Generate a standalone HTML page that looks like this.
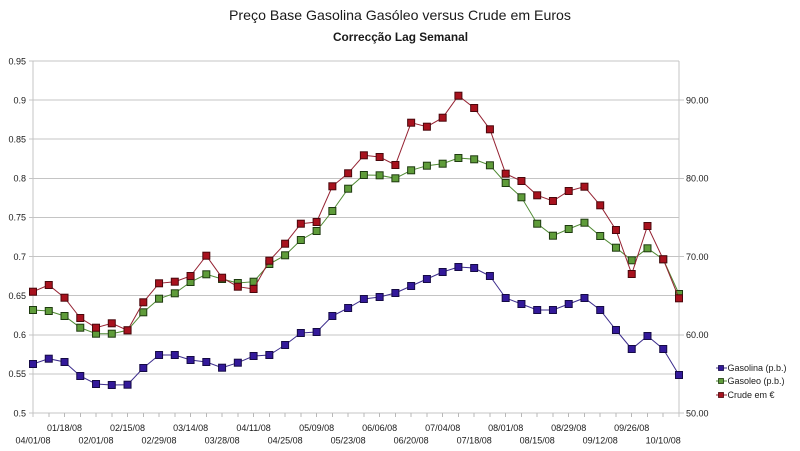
<!DOCTYPE html>
<html><head><meta charset="utf-8"><style>
html,body{margin:0;padding:0;background:#fff;width:800px;height:451px;overflow:hidden}
svg{display:block}
text{font-family:"Liberation Sans",Arial,sans-serif;fill:#1a1a1a}
</style></head><body>
<svg width="800" height="451" viewBox="0 0 800 451" xmlns="http://www.w3.org/2000/svg">
<defs>
<marker id="mb" markerUnits="userSpaceOnUse" markerWidth="9" markerHeight="9" refX="4.5" refY="4.5"><rect x="1" y="1" width="7" height="7" fill="#33199a" stroke="#150a45" stroke-width="1"/></marker>
<marker id="mg" markerUnits="userSpaceOnUse" markerWidth="9" markerHeight="9" refX="4.5" refY="4.5"><rect x="1" y="1" width="7" height="7" fill="#5f9c3a" stroke="#1e3a10" stroke-width="1"/></marker>
<marker id="mr" markerUnits="userSpaceOnUse" markerWidth="9" markerHeight="9" refX="4.5" refY="4.5"><rect x="1" y="1" width="7" height="7" fill="#a8121e" stroke="#4a070c" stroke-width="1"/></marker>
</defs>
<rect width="800" height="451" fill="#fff"/>
<text x="400" y="20" font-size="14" text-anchor="middle" textLength="342" lengthAdjust="spacingAndGlyphs">Preço Base Gasolina Gasóleo versus Crude em Euros</text>
<text x="400.5" y="41" font-size="11.5" font-weight="bold" text-anchor="middle" textLength="135" lengthAdjust="spacingAndGlyphs">Correcção Lag Semanal</text>
<g stroke="#c4c4c4" stroke-width="1" shape-rendering="crispEdges">
<line x1="29" y1="61" x2="679" y2="61"/>
<line x1="29" y1="100.1" x2="684" y2="100.1"/>
<line x1="29" y1="139.2" x2="679" y2="139.2"/>
<line x1="29" y1="178.3" x2="684" y2="178.3"/>
<line x1="29" y1="217.4" x2="679" y2="217.4"/>
<line x1="29" y1="256.5" x2="684" y2="256.5"/>
<line x1="29" y1="295.7" x2="679" y2="295.7"/>
<line x1="29" y1="334.8" x2="684" y2="334.8"/>
<line x1="29" y1="373.9" x2="679" y2="373.9"/>
<line x1="29" y1="413" x2="684" y2="413"/>
<line x1="33" y1="61" x2="33" y2="417"/>
<line x1="679" y1="61" x2="679" y2="417"/>
</g>
<g stroke="#b8b8b8" stroke-width="1" shape-rendering="crispEdges">
<path d="M48.76 413v4M64.51 413v4M80.27 413v4M96.02 413v4M111.78 413v4M127.54 413v4M143.29 413v4M159.05 413v4M174.8 413v4M190.56 413v4M206.32 413v4M222.07 413v4M237.83 413v4M253.58 413v4M269.34 413v4M285.1 413v4M300.85 413v4M316.61 413v4M332.36 413v4M348.12 413v4M363.88 413v4M379.63 413v4M395.39 413v4M411.14 413v4M426.9 413v4M442.66 413v4M458.41 413v4M474.17 413v4M489.92 413v4M505.68 413v4M521.44 413v4M537.19 413v4M552.95 413v4M568.7 413v4M584.46 413v4M600.22 413v4M615.97 413v4M631.73 413v4M647.48 413v4M663.24 413v4"/>
</g>
<g font-size="9" text-anchor="end">
<text x="26" y="64.3">0.95</text>
<text x="26" y="103.4">0.9</text>
<text x="26" y="142.5">0.85</text>
<text x="26" y="181.6">0.8</text>
<text x="26" y="220.7">0.75</text>
<text x="26" y="259.8">0.7</text>
<text x="26" y="299">0.65</text>
<text x="26" y="338.1">0.6</text>
<text x="26" y="377.2">0.55</text>
<text x="26" y="416.3">0.5</text>
</g>
<g font-size="9">
<text x="686" y="103.4">90.00</text>
<text x="686" y="181.6">80.00</text>
<text x="686" y="259.8">70.00</text>
<text x="686" y="338.1">60.00</text>
<text x="686" y="416.3">50.00</text>
</g>
<g font-size="9" text-anchor="middle">
<text x="64.5" y="431">01/18/08</text>
<text x="127.5" y="431">02/15/08</text>
<text x="190.6" y="431">03/14/08</text>
<text x="253.6" y="431">04/11/08</text>
<text x="316.6" y="431">05/09/08</text>
<text x="379.6" y="431">06/06/08</text>
<text x="442.7" y="431">07/04/08</text>
<text x="505.7" y="431">08/01/08</text>
<text x="568.7" y="431">08/29/08</text>
<text x="631.7" y="431">09/26/08</text>
<text x="33" y="443.5">04/01/08</text>
<text x="96" y="443.5">02/01/08</text>
<text x="159" y="443.5">02/29/08</text>
<text x="222.1" y="443.5">03/28/08</text>
<text x="285.1" y="443.5">04/25/08</text>
<text x="348.1" y="443.5">05/23/08</text>
<text x="411.1" y="443.5">06/20/08</text>
<text x="474.2" y="443.5">07/18/08</text>
<text x="537.2" y="443.5">08/15/08</text>
<text x="600.2" y="443.5">09/12/08</text>
<text x="663.2" y="443.5">10/10/08</text>
</g>
<polyline fill="none" stroke="#3c2c8c" stroke-width="1" marker-start="url(#mb)" marker-mid="url(#mb)" marker-end="url(#mb)" points="33,364 48.76,358.7 64.51,362 80.27,376 96.02,384 111.78,385 127.54,384.7 143.29,368 159.05,355 174.8,355 190.56,360 206.32,362 222.07,367.7 237.83,362.7 253.58,356 269.34,355 285.1,345 300.85,333 316.61,332 332.36,316 348.12,308 363.88,299 379.63,297 395.39,293 411.14,286 426.9,279 442.66,272 458.41,267 474.17,268 489.92,276 505.68,298 521.44,304 537.19,310 552.95,310 568.7,304 584.46,298 600.22,310 615.97,330 631.73,349 647.48,336 663.24,349 679,375"/>
<polyline fill="none" stroke="#4f8a33" stroke-width="1" marker-start="url(#mg)" marker-mid="url(#mg)" marker-end="url(#mg)" points="33,310 48.76,311 64.51,316 80.27,327.7 96.02,333.7 111.78,333.7 127.54,330.3 143.29,312.3 159.05,298.7 174.8,293.3 190.56,282 206.32,274.3 222.07,279 237.83,283 253.58,281.7 269.34,264 285.1,255.3 300.85,240 316.61,231 332.36,211 348.12,188.7 363.88,175 379.63,175.3 395.39,178.3 411.14,170.3 426.9,165.7 442.66,163.7 458.41,158 474.17,159.3 489.92,165.3 505.68,183 521.44,197.3 537.19,223.7 552.95,235.7 568.7,229 584.46,222.7 600.22,236 615.97,247.7 631.73,260.3 647.48,248.3 663.24,259.3 679,294"/>
<polyline fill="none" stroke="#952232" stroke-width="1" marker-start="url(#mr)" marker-mid="url(#mr)" marker-end="url(#mr)" points="33,291.7 48.76,285 64.51,297.7 80.27,318 96.02,327.7 111.78,323.3 127.54,330.3 143.29,302.3 159.05,283.3 174.8,281.7 190.56,276 206.32,255.7 222.07,277.7 237.83,286.7 253.58,289 269.34,260.7 285.1,243.7 300.85,223.7 316.61,222 332.36,186.3 348.12,173.3 363.88,155.3 379.63,157 395.39,165 411.14,122.7 426.9,126.7 442.66,117.7 458.41,95.7 474.17,108 489.92,129.3 505.68,173.7 521.44,181 537.19,195.3 552.95,201 568.7,191 584.46,186.7 600.22,205.3 615.97,230 631.73,274 647.48,226 663.24,259.3 679,298.3"/>
<g font-size="9">
<line x1="716" y1="368" x2="727" y2="368" stroke="#3c2c8c"/>
<rect x="718.5" y="365.5" width="5" height="5" fill="#33199a" stroke="#150a45" stroke-width="0.8"/>
<text x="727.5" y="371">Gasolina (p.b.)</text>
<line x1="716" y1="381" x2="727" y2="381" stroke="#4f8a33"/>
<rect x="718.5" y="378.5" width="5" height="5" fill="#5f9c3a" stroke="#1e3a10" stroke-width="0.8"/>
<text x="727.5" y="384">Gasoleo (p.b.)</text>
<line x1="716" y1="395" x2="727" y2="395" stroke="#952232"/>
<rect x="718.5" y="392.5" width="5" height="5" fill="#a8121e" stroke="#4a070c" stroke-width="0.8"/>
<text x="727.5" y="398">Crude em €</text>
</g>
</svg>
</body></html>
